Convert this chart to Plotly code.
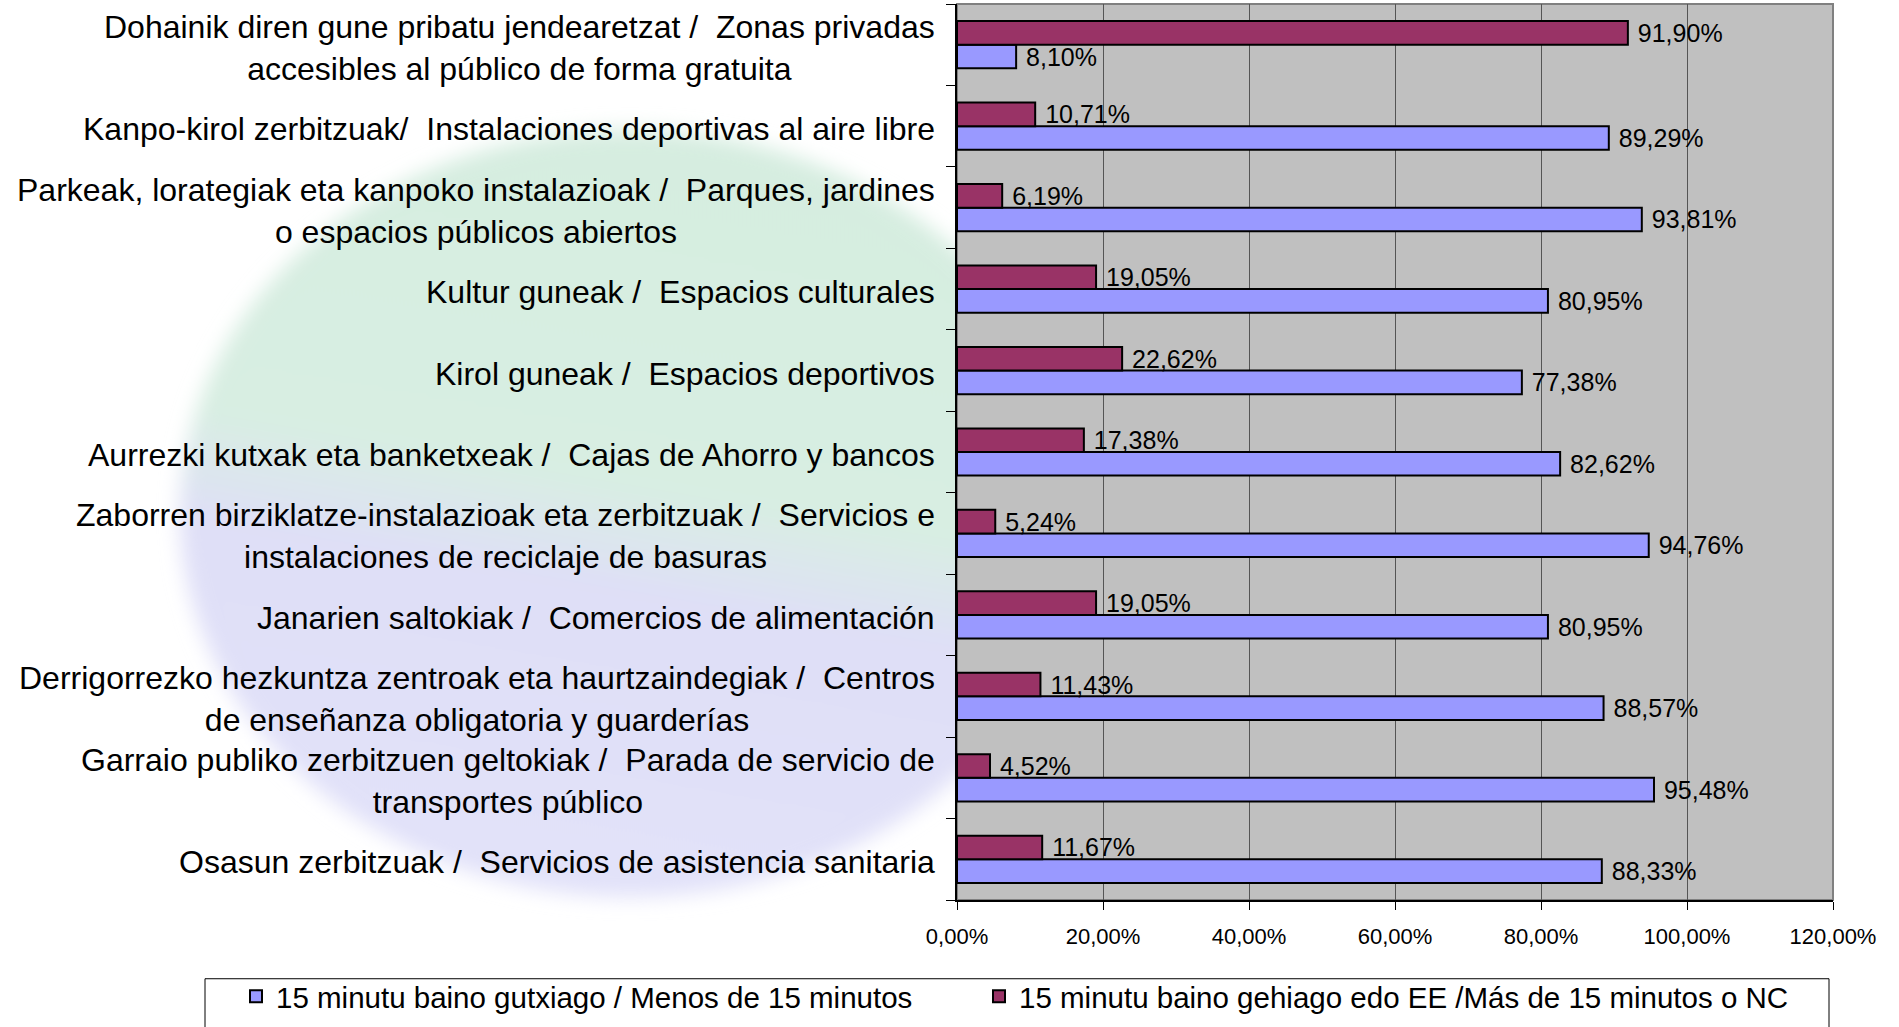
import base64
import plotly.graph_objects as go

categories = [
    "Dohainik diren gune pribatu jendearetzat /  Zonas privadas<br>accesibles al público de forma gratuita",
    "Kanpo-kirol zerbitzuak/  Instalaciones deportivas al aire libre",
    "Parkeak, lorategiak eta kanpoko instalazioak /  Parques, jardines<br>o espacios públicos abiertos",
    "Kultur guneak /  Espacios culturales",
    "Kirol guneak /  Espacios deportivos",
    "Aurrezki kutxak eta banketxeak /  Cajas de Ahorro y bancos",
    "Zaborren birziklatze-instalazioak eta zerbitzuak /  Servicios e<br>instalaciones de reciclaje de basuras",
    "Janarien saltokiak /  Comercios de alimentación",
    "Derrigorrezko hezkuntza zentroak eta haurtzaindegiak /  Centros<br>de enseñanza obligatoria y guarderías",
    "Garraio publiko zerbitzuen geltokiak /  Parada de servicio de<br>transportes público",
    "Osasun zerbitzuak /  Servicios de asistencia sanitaria",
]
menos_15 = [8.10, 89.29, 93.81, 80.95, 77.38, 82.62, 94.76, 80.95, 88.57, 95.48, 88.33]
mas_15 = [91.90, 10.71, 6.19, 19.05, 22.62, 17.38, 5.24, 19.05, 11.43, 4.52, 11.67]
series_names = [
    "15 minutu baino gutxiago / Menos de 15 minutos",
    "15 minutu baino gehiago edo EE /Más de 15 minutos o NC",
]
x_ticks = [0, 20, 40, 60, 80, 100, 120]
x_tick_labels = ["0,00%", "20,00%", "40,00%", "60,00%", "80,00%", "100,00%", "120,00%"]

FONT = "Liberation Sans, Arial, sans-serif"
W, H = 1899, 1027
ml, mr, mt, mb = 957, 66, 4, 124
pw, ph = W - ml - mr, H - mt - mb


def px_x(page_x):
    return (page_x - ml) / pw


def px_y(page_y):
    return (H - mb - page_y) / ph


fig = go.Figure()
fig.add_trace(go.Bar(
    y=categories, x=menos_15, orientation="h", name=series_names[0],
    marker=dict(color="#9999FF", line=dict(color="#000000", width=2)),
    texttemplate="\u00a0%{x:.2f}%", textposition="outside", constraintext="none",
    textfont=dict(family=FONT, size=25, color="#000000"), cliponaxis=False,
    legend="legend",
))
fig.add_trace(go.Bar(
    y=categories, x=mas_15, orientation="h", name=series_names[1],
    marker=dict(color="#993366", line=dict(color="#000000", width=2)),
    texttemplate="\u00a0%{x:.2f}%", textposition="outside", constraintext="none",
    textfont=dict(family=FONT, size=25, color="#000000"), cliponaxis=False,
    legend="legend2",
))

for c in categories:
    fig.add_annotation(
        x=0, xref="paper", y=c, yref="y", text=c, showarrow=False,
        xanchor="right", align="center", xshift=-20, yshift=-3,
        font=dict(family=FONT, size=32, color="#000000"),
    )

# faint decorative watermark behind the category labels
wm_x0, wm_y0 = 120, 90
wm_w, wm_h = ml - wm_x0, 870
svg = f'''<svg xmlns="http://www.w3.org/2000/svg" width="{wm_w}" height="{wm_h}" viewBox="0 0 {wm_w} {wm_h}">
<defs>
<filter id="b" x="-20%" y="-20%" width="140%" height="140%"><feGaussianBlur stdDeviation="10"/></filter>
<linearGradient id="g" x1="0.6" y1="0.0" x2="0.4" y2="1.0">
<stop offset="0" stop-color="#d6ede0"/><stop offset="0.46" stop-color="#d8eee2"/>
<stop offset="0.6" stop-color="#dfdff7"/><stop offset="1" stop-color="#e2e2f9"/>
</linearGradient>
</defs>
<ellipse cx="{630 - wm_x0}" cy="{515 - wm_y0}" rx="450" ry="385" fill="url(#g)" filter="url(#b)"/>
</svg>'''
src = "data:image/svg+xml;base64," + base64.b64encode(svg.encode()).decode()
fig.add_layout_image(
    source=src, xref="paper", yref="paper", x=px_x(wm_x0), y=px_y(wm_y0),
    sizex=wm_w / pw, sizey=wm_h / ph, xanchor="left", yanchor="top",
    sizing="stretch", layer="below", opacity=1,
)

# plot frame (grey top/right border)
fig.add_shape(type="rect", xref="paper", yref="paper", x0=0, x1=1, y0=0, y1=1,
              line=dict(color="#808080", width=2), layer="below")
# legend box
fig.add_shape(type="rect", xref="paper", yref="paper",
              x0=px_x(205), x1=px_x(1829), y0=px_y(982), y1=px_y(1060),
              line=dict(color="#000000", width=1))

legend_common = dict(orientation="h", xanchor="left", yanchor="bottom",
                     font=dict(family=FONT, size=29.5, color="#000000"),
                     bgcolor="rgba(0,0,0,0)")
fig.update_layout(
    width=W, height=H,
    margin=dict(l=ml, r=mr, t=mt, b=mb),
    paper_bgcolor="#FFFFFF", plot_bgcolor="#C0C0C0",
    barmode="group", bargap=0.42, bargroupgap=0,
    separators=",.",
    showlegend=True,
    legend=dict(x=px_x(236), y=px_y(1026), **legend_common),
    legend2=dict(x=px_x(979), y=px_y(1026), **legend_common),
    font=dict(family=FONT, color="#000000"),
)
fig.update_xaxes(
    range=[0, 120], tickvals=x_ticks, ticktext=x_tick_labels,
    showgrid=True, gridcolor="#555555", gridwidth=1,
    showline=True, linecolor="#000000", linewidth=2,
    ticks="outside", ticklen=8, tickcolor="#000000", tickwidth=1,
    ticklabelstandoff=8,
    tickfont=dict(family=FONT, size=22, color="#000000"), zeroline=False,
)
fig.update_yaxes(
    categoryorder="array", categoryarray=categories[::-1],
    showticklabels=False, showgrid=False,
    showline=True, linecolor="#000000", linewidth=2,
    ticks="outside", ticklen=9, tickcolor="#000000", tickson="boundaries",
)

fig.write_html(
    "out.html",
    config={"displayModeBar": False},
    post_script="document.body.style.margin='0';document.documentElement.style.overflow='hidden';document.body.style.overflow='hidden';",
)
